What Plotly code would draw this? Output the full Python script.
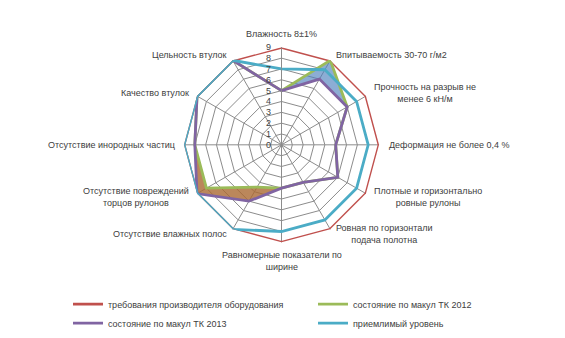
import math
import plotly.graph_objects as go

categories = [
    "Влажность 8±1%",
    "Впитываемость 30-70 г/м2",
    "Прочность на разрыв не<br>менее 6 кН/м",
    "Деформация не более 0,4 %",
    "Плотные и горизонтально<br>ровные рулоны",
    "Ровная по горизонтали<br>подача полотна",
    "Равномерные показатели по<br>ширине",
    "Отсутствие влажных полос",
    "Отсутствие повреждений<br>торцов рулонов",
    "Отсутствие инородных частиц",
    "Качество втулок",
    "Цельность втулок",
]

series_names = [
    "требования производителя оборудования",
    "состояние по макул ТК 2012",
    "состояние по макул ТК 2013",
    "приемлимый уровень",
]
req_values = [9, 9, 9, 9, 9, 9, 9, 9, 9, 9, 9, 9]
tk2012_values = [5, 9, 7, 5, 6, 4, 4, 4.5, 8, 8, 9, 9]
tk2013_values = [5, 7, 7, 5, 6, 4, 4, 6, 9, 8, 9, 9]
accept_values = [7, 8, 8, 8, 8, 8, 8, 9, 9, 9, 9, 9]
tick_labels = [str(i) for i in range(10)]

colors = ["#C0504D", "#9BBB59", "#8064A2", "#4BACC6"]
W, H = 565, 338
CX, CY, R = 281.5, 147.0, 99.0   # polar centre and outer radius (px)


def closed(vals):
    return list(vals) + [vals[0]]


fig = go.Figure()

# difference areas between 2012 and 2013 (built from the data arrays)
up_idx = [0, 1, 2]
dn_idx = [6, 7, 8, 9]
for idx, col in [(up_idx, "rgba(79,129,189,0.65)"), (dn_idx, "rgba(170,105,50,0.8)")]:
    r = [tk2012_values[i] for i in idx] + [tk2013_values[i] for i in reversed(idx)]
    th = [categories[i] for i in idx] + [categories[i] for i in reversed(idx)]
    fig.add_trace(go.Scatterpolar(
        r=r + [r[0]], theta=th + [th[0]], mode="lines", fill="toself",
        fillcolor=col, line=dict(width=0), showlegend=False, hoverinfo="skip"))

for name, vals, col in zip(series_names,
                           [req_values, tk2012_values, tk2013_values, accept_values],
                           colors):
    fig.add_trace(go.Scatterpolar(
        r=closed(vals), theta=closed(categories), mode="lines", name=name,
        line=dict(color=col, width=2.8)))

# category labels placed just outside the outer polygon, Excel style
annotations = []
n = len(categories)
for i, lab in enumerate(categories):
    a = 2 * math.pi * i / n
    s, c = math.sin(a), math.cos(a)
    d = R + 6
    px = CX + d * s
    py = CY - d * c
    if s > 0.1:
        xa = "left"
    elif s < -0.1:
        xa = "right"
    else:
        xa = "center"
    if c > 0.9:
        ya = "bottom"
    elif c < -0.9:
        ya = "top"
    else:
        ya = "middle"
    annotations.append(dict(
        text=lab, x=px / W, y=1 - py / H, xref="paper", yref="paper",
        xanchor=xa, yanchor=ya, align="center", showarrow=False,
        font=dict(size=9, color="#404040")))

grid = "#8C8C8C"
fig.update_layout(
    width=W, height=H,
    margin=dict(l=0, r=0, t=0, b=0),
    paper_bgcolor="white",
    font=dict(family="Liberation Sans, Arial, sans-serif", size=9, color="#404040"),
    annotations=annotations,
    polar=dict(
        domain=dict(x=[(CX - R) / W, (CX + R) / W], y=[1 - (CY + R) / H, 1 - (CY - R) / H]),
        bgcolor="white",
        gridshape="linear",
        angularaxis=dict(
            categoryorder="array", categoryarray=categories,
            rotation=90, direction="clockwise",
            showline=False, gridcolor=grid, gridwidth=0.8,
            ticks="", showticklabels=False),
        radialaxis=dict(
            range=[0, 9], tickvals=list(range(10)), ticktext=tick_labels,
            angle=90, tickangle=90, side="counterclockwise",
            showline=True, linecolor=grid, linewidth=0.8,
            gridcolor=grid, gridwidth=0.8,
            ticks="outside", ticklen=7, tickcolor="rgba(0,0,0,0)",
            tickfont=dict(size=9, color="#404040")),
    ),
    legend=dict(
        orientation="h", x=68 / W, xanchor="left", y=44 / H, yanchor="top",
        entrywidth=200, entrywidthmode="pixels",
        font=dict(size=9, color="#404040"), itemwidth=30,
        bgcolor="rgba(0,0,0,0)"),
)

fig.write_html("out.html")
